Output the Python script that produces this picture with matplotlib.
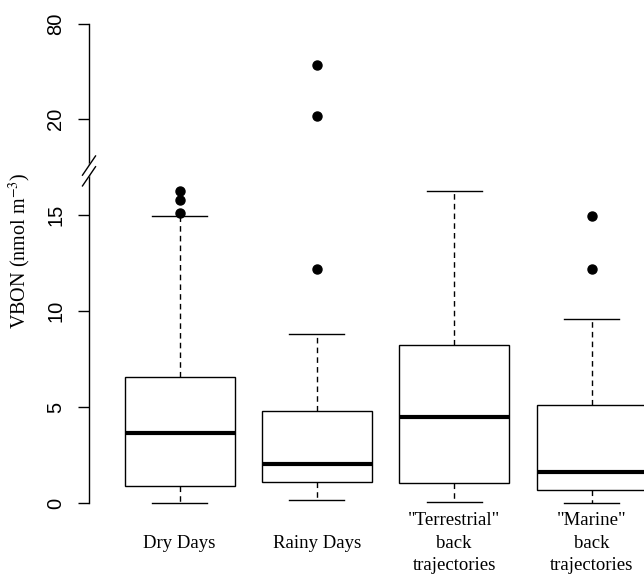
import numpy as np
import matplotlib
matplotlib.use("Agg")
import matplotlib.pyplot as plt

# Boxplot of VBON with a broken y axis (R-style look)

labels = ['Dry Days', 'Rainy Days', '"Terrestrial"\nback\ntrajectories', '"Marine"\nback\ntrajectories']
whislo = [0.0, 0.14, 0.05, 0.02]
q1 = [0.89, 1.09, 1.04, 0.68]
med = [3.65, 2.05, 4.48, 1.61]
q3 = [6.55, 4.81, 8.23, 5.10]
whishi = [14.95, 8.80, 16.27, 9.58]
fliers = [[15.12, 15.78, 16.27], [12.19, 22.1, 53.9], [], [12.17, 14.96]]
yticks = [0, 5, 10, 15, 20, 80]

# above 20 the axis is squeezed
k = 0.0825


def fwd(v):
    v = np.asarray(v, dtype=float)
    return np.where(v <= 20, v, 20 + (v - 20) * k)


def inv(u):
    u = np.asarray(u, dtype=float)
    return np.where(u <= 20, u, 20 + (u - 20) / k)


serif = 'Liberation Serif'
sans = 'Liberation Sans'
plt.rcParams['mathtext.fontset'] = 'stix'

fig = plt.figure(figsize=(6.44, 5.76), dpi=100)
ax = fig.add_axes([0.1382, 0.0934, 0.921, 0.898])

stats = []
for i in range(len(labels)):
    stats.append(dict(whislo=whislo[i], q1=q1[i], med=med[i], q3=q3[i],
                      whishi=whishi[i], fliers=fliers[i]))

ax.set_yscale('function', functions=(fwd, inv))

ax.bxp(stats, positions=[1, 2, 3, 4], widths=0.8, patch_artist=True,
       boxprops=dict(facecolor='white', edgecolor='black', linewidth=1.0),
       whiskerprops=dict(color='black', linewidth=1.0, linestyle=(0, (4, 3))),
       capprops=dict(color='black', linewidth=1.0),
       medianprops=dict(color='black', linewidth=3.0, solid_capstyle='butt'),
       flierprops=dict(marker='o', markerfacecolor='black', markeredgecolor='black',
                       markersize=6.5, linestyle='none'))

ax.set_xlim(0.34, 4.66)
ax.set_ylim(-1.0, 92.1)

for s in ['top', 'right', 'bottom']:
    ax.spines[s].set_visible(False)
ax.spines['left'].set_bounds(0, 80)
ax.spines['left'].set_linewidth(1.0)

ax.set_yticks(yticks)
ax.set_yticklabels([str(t) for t in yticks], fontsize=14.5, family=sans,
                   rotation=90, va='center')
ax.tick_params(axis='y', length=8, width=1.0, pad=9)

ax.set_xticks([1, 2, 3, 4])
ax.set_xticklabels(labels, fontsize=13.5, family=serif, linespacing=1.45)
for t in ax.get_xticklabels():
    t.set_verticalalignment('center')
ax.tick_params(axis='x', length=0, pad=15)

ax.set_ylabel('VBON (nmol m$^{-3}$)', fontsize=14.5, family=serif)
ax.yaxis.set_label_coords(-0.095, 0.524)

# axis break mark
brk = 17.3
tr = ax.get_yaxis_transform()
gap = 0.28
ax.fill([-0.011, 0.011, 0.011, -0.011],
        [brk - 0.5 - gap, brk + 0.5 - gap, brk + 0.5 + gap, brk - 0.5 + gap],
        color='white', transform=tr, clip_on=False, zorder=3)
for d in [-gap, gap]:
    ax.plot([-0.011, 0.011], [brk - 0.5 + d, brk + 0.5 + d], color='black',
            lw=1.0, transform=tr, clip_on=False, zorder=4)

fig.savefig('out.png', dpi=100)
